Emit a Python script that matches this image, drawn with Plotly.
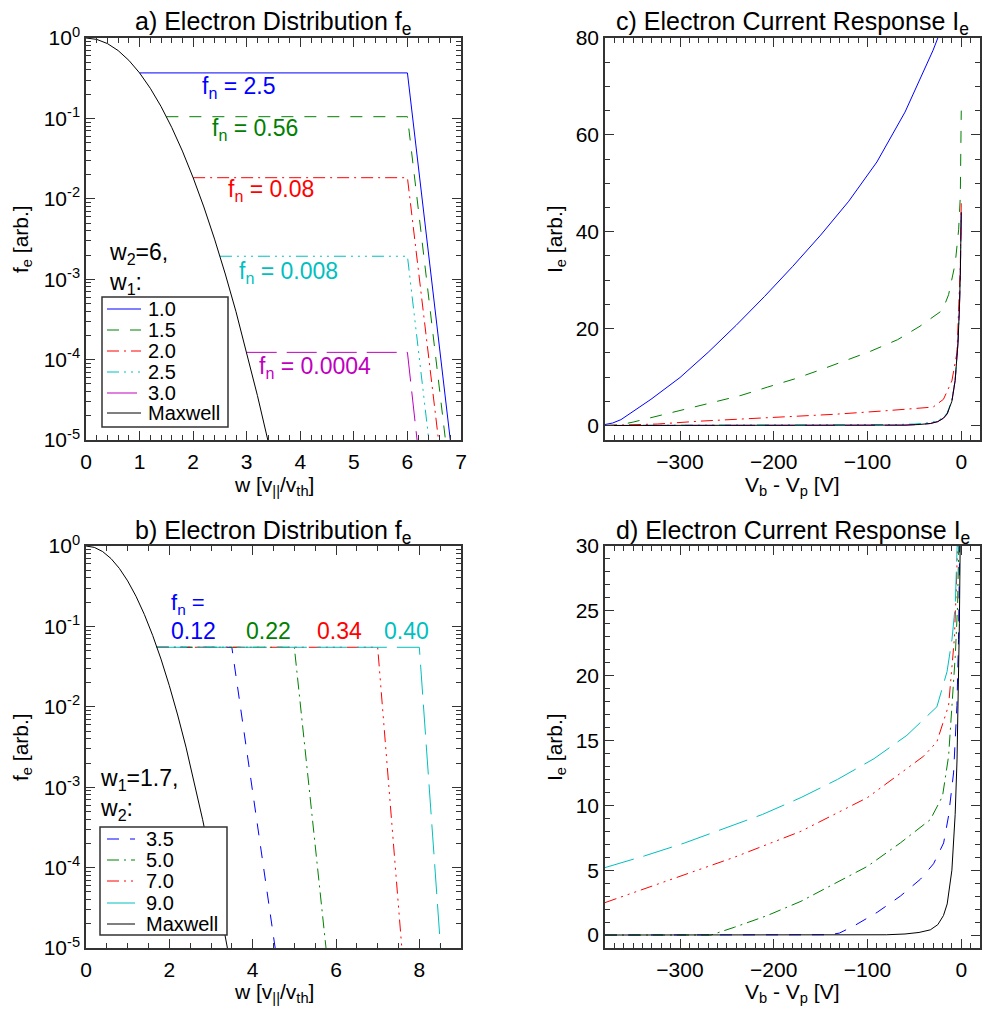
import plotly.graph_objects as go

FONT = "Liberation Sans, Arial, Helvetica, sans-serif"
W, H = 982, 1012

BLUE, GREEN, RED = "#0000FF", "#008000", "#FF0000"
CYAN, MAGENTA, BLACK = "#00BFBF", "#BF00BF", "#000000"
AXIS = "#333333"

# IDL-like line styles
SOLID = "solid"
DASHED = "12px,11px"
DASHDOT = "12px,5px,2px,5px"
DASH3DOT = "12px,5px,2px,5px,2px,5px,2px,5px"
LONGDASH = "30px,10px"

# ---------------- data ----------------
# Maxwellian electron distribution f_e(w)
maxwell_w = [0.0, 0.2, 0.4, 0.6, 0.8, 1.0, 1.2, 1.4, 1.6, 1.8, 2.0, 2.2,
             2.4, 2.6, 2.8, 3.0, 3.2, 3.4]
maxwell_f = [1.0, 0.961, 0.852, 0.698, 0.527, 0.368, 0.237, 0.141, 0.0773,
             0.0392, 0.0183, 0.00791, 0.00315, 0.00116, 0.000394, 0.000123,
             3.57e-5, 9.6e-6]
f_floor = 1e-5

# a) w2 = 6 fixed, w1 varied
a_labels = ["1.0", "1.5", "2.0", "2.5", "3.0"]
a_w1 = [1.0, 1.5, 2.0, 2.5, 3.0]
a_plateau = [0.368, 0.105, 0.0183, 0.00193, 0.000123]
a_w2 = [6.0, 6.0, 6.0, 6.0, 6.0]
a_wcut = [6.80, 6.71, 6.58, 6.40, 6.18]
a_fn = ["2.5", "0.56", "0.08", "0.008", "0.0004"]

# b) w1 = 1.7 fixed, w2 varied
b_labels = ["3.5", "5.0", "7.0", "9.0"]
b_w1 = [1.7, 1.7, 1.7, 1.7]
b_plateau = [0.055, 0.055, 0.055, 0.055]
b_w2 = [3.5, 5.0, 7.0, 8.0]
b_wcut = [4.54, 5.76, 7.58, 8.51]
b_fn = ["0.12", "0.22", "0.34", "0.40"]

# c) current response for the a) distributions
c_v = [
    [-380, -372, -363, -352, -331, -300, -270, -240, -210, -180, -150, -120,
     -90, -60, -30, -15],
    [-380, -365, -350, -320, -292, -263, -235, -207, -178, -150, -122, -97,
     -68, -44, -20, -13.5, -6.4, -2.8, -1, 0],
    [-380, -363, -324, -278, -207, -136, -83, -30, -19, -10, -4.6, -2.1, -1, 0],
    [-380, -250, -150, -100, -70, -50, -40, -33, -25, -19, -15, -10, -6.5,
     -4.5, -3.5, -2, -1, 0],
    [-380, -100, -60, -45, -33, -25, -19, -15, -10, -6.5, -4.5, -3.5, -2, -1, 0],
]
c_i = [
    [0.2, 0.5, 1.2, 2.6, 5.4, 9.9, 15.1, 20.7, 26.6, 32.8, 39.3, 46.3,
     54.4, 64.7, 77.5, 85.0],
    [0.0, 0.1, 0.7, 2.1, 3.5, 4.8, 6.2, 7.9, 9.6, 11.5, 13.5, 15.3,
     17.7, 20.5, 23.8, 27.0, 33.5, 40.4, 47.3, 65.0],
    [0.0, 0.05, 0.3, 0.9, 1.6, 2.3, 3.0, 3.8, 5.4, 9.2, 15.0, 26.7, 33.0, 46.0],
    [0.0, 0.02, 0.06, 0.12, 0.2, 0.3, 0.4, 0.6, 1.0, 1.7, 2.6, 5.2, 9.5,
     13.6, 17.1, 24.1, 31.1, 44.2],
    [0.0, 0.01, 0.05, 0.2, 0.4, 0.8, 1.5, 2.4, 5.0, 9.3, 13.5, 17.0, 24.0, 31.0, 44.0],
]

# Maxwellian current response (panels c and d)
maxwell_v = [-380, -80, -60, -45, -33, -25, -19, -15, -10, -6.5, -4.5, -3.5,
             -2, -1, 0]
maxwell_i = [0.0, 0.02, 0.08, 0.2, 0.4, 0.8, 1.5, 2.4, 5.0, 9.3, 13.5, 17.0,
             24.0, 31.0, 44.0]

# d) current response for the b) distributions
d_v = [
    [-380, -140, -130, -114.5, -89.7, -65, -43.6, -29.5, -18.8, -13.5, -8.2,
     -4.6, -2.9, -1.8, -1, 0],
    [-380, -267, -242, -207, -171, -136, -100, -65, -33, -20, -13.5, -9.9,
     -6.4, -3.9, -2.1, -1, 0],
    [-380, -313, -242, -171, -100, -40, -26, -13.5, -10, -7.4, -5.3, -3.5, -2, 0],
    [-380, -338, -295, -253, -212, -171, -132, -93, -58, -26, -15.2, -9.9,
     -6.4, -4.6, -3, 0],
]
d_i = [
    [0.0, 0.02, 0.15, 0.7, 1.75, 3.0, 4.3, 5.5, 7.1, 9.2, 12.5, 17.7, 22.8,
     28.0, 33.0, 40.0],
    [0.0, 0.0, 0.6, 1.5, 2.6, 3.9, 5.3, 7.1, 8.9, 10.7, 13.8, 17.7, 21.5,
     25.4, 29.2, 33.0, 40.0],
    [2.5, 4.2, 6.0, 8.0, 10.6, 13.8, 14.9, 17.7, 20.3, 22.8, 26.7, 29.8, 33.0, 40.0],
    [5.2, 6.1, 7.1, 8.2, 9.3, 10.6, 12.0, 13.6, 15.4, 17.6, 20.3, 22.8, 25.4,
     29.5, 33.0, 40.0],
]

# log-axis tick labels
log_tickvals = [1e-5, 1e-4, 1e-3, 1e-2, 1e-1, 1.0]
log_ticktext = ["10<sup>-5</sup>", "10<sup>-4</sup>", "10<sup>-3</sup>",
                "10<sup>-2</sup>", "10<sup>-1</sup>", "10<sup>0</sup>"]
log_minor = [k * 10.0 ** e for e in range(-5, 0) for k in range(2, 10)]

# ---------------- styling ----------------
a_colors = [BLUE, GREEN, RED, CYAN, MAGENTA]
a_dashes = [SOLID, DASHED, DASHDOT, DASH3DOT, LONGDASH]
b_colors = [BLUE, GREEN, RED, CYAN]
b_dashes = [DASHED, DASHDOT, DASH3DOT, LONGDASH]

# plot-area boxes in pixels: (left, right, top, bottom)
BOX = {
    "a": (86, 461, 38, 440),
    "c": (605, 980, 38, 440),
    "b": (86, 461, 546, 948),
    "d": (605, 980, 546, 948),
}


def px(x):
    return x / W


def py(y):
    return 1 - y / H


fig = go.Figure()


def line(x, y, color, dash, xa, ya):
    fig.add_trace(go.Scatter(
        x=x, y=y, mode="lines", xaxis=xa, yaxis=ya, showlegend=False,
        line=dict(color=color, width=1, dash=dash), hoverinfo="skip"))


# a)
for k in range(len(a_labels)):
    line([a_w1[k], a_w2[k], a_wcut[k]], [a_plateau[k], a_plateau[k], f_floor],
         a_colors[k], a_dashes[k], "x", "y")
line(maxwell_w, maxwell_f, BLACK, SOLID, "x", "y")

# c)
for k in range(len(c_v)):
    line(c_v[k], c_i[k], a_colors[k], a_dashes[k], "x2", "y2")
line(maxwell_v, maxwell_i, BLACK, SOLID, "x2", "y2")

# b)
for k in range(len(b_labels)):
    line([b_w1[k], b_w2[k], b_wcut[k]], [b_plateau[k], b_plateau[k], f_floor],
         b_colors[k], b_dashes[k], "x3", "y3")
line(maxwell_w, maxwell_f, BLACK, SOLID, "x3", "y3")

# d)
for k in range(len(d_v)):
    line(d_v[k], d_i[k], b_colors[k], b_dashes[k], "x4", "y4")
line(maxwell_v, maxwell_i, BLACK, SOLID, "x4", "y4")

TICKFONT = dict(family=FONT, size=21, color="black")


def axis(box, horizontal, **kw):
    l, r, t, b = BOX[box]
    d = dict(
        automargin=False,
        showline=True, linecolor=AXIS, linewidth=1.5, mirror="allticks",
        ticks="inside", ticklen=9, tickwidth=1, tickcolor=AXIS,
        showgrid=False, zeroline=False, tickfont=TICKFONT,
        minor=dict(ticks="inside", ticklen=5, tickwidth=1, tickcolor=AXIS,
                   showgrid=False),
    )
    d["domain"] = [px(l), px(r)] if horizontal else [py(b), py(t)]
    for key, val in kw.items():
        if key == "minor":
            d["minor"].update(val)
        else:
            d[key] = val
    return d


layout = dict(
    width=W, height=H, margin=dict(l=0, r=0, t=0, b=0, pad=0),
    paper_bgcolor="white", plot_bgcolor="white", showlegend=False,
    font=dict(family=FONT, color="black"),
    xaxis=axis("a", True, range=[0, 7], dtick=1, tick0=0, anchor="y",
               minor=dict(dtick=0.2), ticklabelstandoff=2),
    yaxis=axis("a", False, type="log", range=[-5, 0], anchor="x",
               tickmode="array", tickvals=log_tickvals, ticktext=log_ticktext,
               minor=dict(tickmode="array", tickvals=log_minor)),
    xaxis2=axis("c", True, range=[-380, 20], dtick=100, tick0=0, anchor="y2",
                minor=dict(dtick=10), ticklabelstandoff=2),
    yaxis2=axis("c", False, range=[-3, 80], dtick=20, tick0=0, anchor="x2",
                minor=dict(dtick=5)),
    xaxis3=axis("b", True, range=[0, 9], dtick=2, tick0=0, anchor="y3",
                minor=dict(dtick=0.5), ticklabelstandoff=2),
    yaxis3=axis("b", False, type="log", range=[-5, 0], anchor="x3",
                tickmode="array", tickvals=log_tickvals, ticktext=log_ticktext,
                minor=dict(tickmode="array", tickvals=log_minor)),
    xaxis4=axis("d", True, range=[-380, 20], dtick=100, tick0=0, anchor="y4",
                minor=dict(dtick=10), ticklabelstandoff=2),
    yaxis4=axis("d", False, range=[-1, 30], dtick=5, tick0=0, anchor="x4",
                minor=dict(dtick=1)),
)
fig.update_layout(**layout)

annotations = []
shapes = []


def text(s, x, y, size, color=BLACK, xref="paper", yref="paper",
         xanchor="center", yanchor="middle", angle=0, align="center"):
    annotations.append(dict(
        text=s, x=x, y=y, xref=xref, yref=yref, xanchor=xanchor,
        yanchor=yanchor, showarrow=False, textangle=angle, align=align,
        font=dict(family=FONT, size=size, color=color)))


# panel titles
text("a) Electron Distribution f<sub>e</sub>", px(273.5), py(23), 25)
text("b) Electron Distribution f<sub>e</sub>", px(273.5), py(532), 25)
text("c) Electron Current Response I<sub>e</sub>", px(792.5), py(23), 25)
text("d) Electron Current Response I<sub>e</sub>", px(792.5), py(532), 25)

# axis titles
for yc in (239, 747):
    text("f<sub>e</sub> [arb.]", px(22), py(yc), 21, angle=-90)
    text("I<sub>e</sub> [arb.]", px(556), py(yc), 21, angle=-90)
for yc in (486, 993):
    text("w [v<sub>||</sub>/v<sub>th</sub>]", px(273.5), py(yc), 21)
    text("V<sub>b</sub> - V<sub>p</sub> [V]", px(792.5), py(yc), 21)

# f_n labels, panel a (data coordinates, log10 for y)
a_fn_pos = [(2.12, -0.62), (2.32, -1.14), (2.62, -1.90), (2.82, -2.92),
            (3.20, -4.10)]
for k, s in enumerate(a_fn):
    text("f<sub>n</sub> = " + s, a_fn_pos[k][0], a_fn_pos[k][1], 23,
         color=a_colors[k], xref="x", yref="y", xanchor="left")

# f_n labels, panel b
text("f<sub>n</sub> =", 2.0, -0.72, 22, color=BLUE, xref="x3", yref="y3",
     xanchor="left")
b_fn_x = [2.0, 3.78, 5.5, 7.1]
for k, s in enumerate(b_fn):
    text(s, b_fn_x[k], -1.06, 23, color=b_colors[k], xref="x3", yref="y3",
         xanchor="left")

# parameter notes
text("w<sub>2</sub>=6,<br>w<sub>1</sub>:", px(107), py(268), 23,
     xanchor="left", align="left")
text("w<sub>1</sub>=1.7,<br>w<sub>2</sub>:", px(98), py(794), 23,
     xanchor="left", align="left")


def legend_box(x0, x1, y0, y1, rows, labels, colors, dashes, sx0, sx1, tx):
    shapes.append(dict(type="rect", xref="paper", yref="paper",
                       x0=px(x0), x1=px(x1), y0=py(y1), y1=py(y0),
                       line=dict(color=AXIS, width=1.5),
                       fillcolor="white", layer="above"))
    for yc, lab, col, dsh in zip(rows, labels, colors, dashes):
        shapes.append(dict(type="line", xref="paper", yref="paper",
                           x0=px(sx0), x1=px(sx1), y0=py(yc), y1=py(yc),
                           line=dict(color=col, width=1, dash=dsh),
                           layer="above"))
        text(lab, px(tx), py(yc), 20, xanchor="left")


legend_box(102, 228, 297, 427, [309, 330, 351, 372, 393, 413],
           a_labels + ["Maxwell"], a_colors + [BLACK], a_dashes + [SOLID],
           107, 141, 146)
legend_box(100, 227, 827, 935, [839, 860, 881, 903, 924],
           b_labels + ["Maxwell"], b_colors + [BLACK], b_dashes + [SOLID],
           107, 135, 144)

fig.update_layout(annotations=annotations, shapes=shapes)
fig.write_html("out.html")
